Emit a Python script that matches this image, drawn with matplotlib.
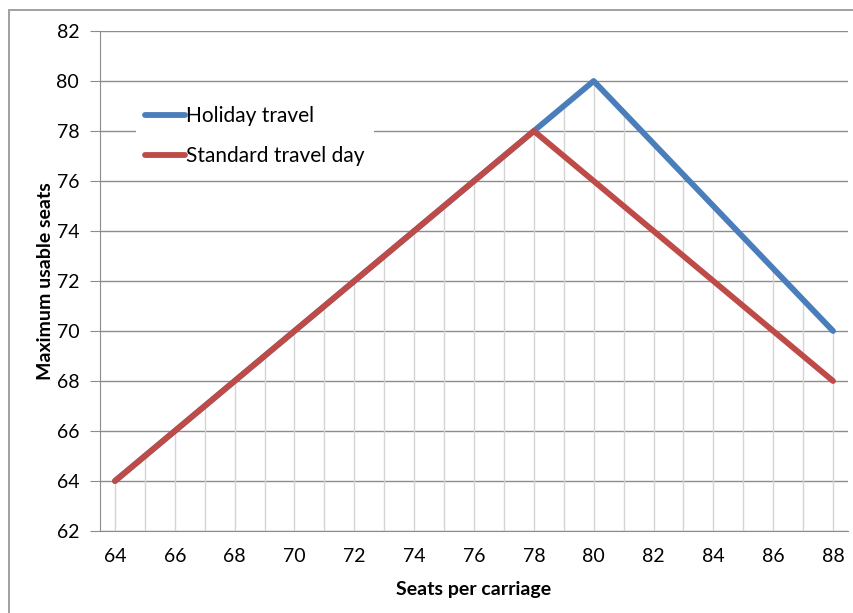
import matplotlib.pyplot as plt
from matplotlib.patches import Rectangle

# Data
seats = [64, 65, 66, 67, 68, 69, 70, 71, 72, 73, 74, 75, 76,
         77, 78, 79, 80, 81, 82, 83, 84, 85, 86, 87, 88]
holiday = [64, 65, 66, 67, 68, 69, 70, 71, 72, 73, 74, 75, 76,
           77, 78, 79, 80, 78.75, 77.5, 76.25, 75, 73.75, 72.5, 71.25, 70]
standard = [64, 65, 66, 67, 68, 69, 70, 71, 72, 73, 74, 75, 76,
            77, 78, 77, 76, 75, 74, 73, 72, 71, 70, 69, 68]
x_ticks = [64, 66, 68, 70, 72, 74, 76, 78, 80, 82, 84, 86, 88]
y_ticks = [62, 64, 66, 68, 70, 72, 74, 76, 78, 80, 82]

plt.rcParams['font.family'] = ['Lato', 'DejaVu Sans']

fig = plt.figure(figsize=(8.54, 6.13), dpi=100)
ax = fig.add_axes([100 / 854, 1 - 531 / 613, 748 / 854, 500 / 613])

# outer chart border (only left and top edges show)
fig.patches.append(Rectangle((9 / 854, -0.05), 1, 1.05 - 10 / 613, transform=fig.transFigure,
                             fill=False, edgecolor='#a0a0a0', linewidth=1.4))

ax.plot(seats, holiday, color='#4a7ebb', linewidth=4.2, solid_capstyle='round',
        solid_joinstyle='round', label='Holiday travel', zorder=3)
ax.plot(seats, standard, color='#be4b48', linewidth=4.2, solid_capstyle='round',
        solid_joinstyle='round', label='Standard travel day', zorder=4)

# drop lines from the highest point down to the axis
tops = [max(h, s) for h, s in zip(holiday, standard)]
ax.vlines(seats, 62, tops, color='#d4d4d4', linewidth=1.0, zorder=1)

ax.set_xlim(63.5, 88.5)
ax.set_ylim(62, 82)
ax.set_xticks(x_ticks)
ax.set_yticks(y_ticks)

ax.grid(axis='y', color='#8c8c8c', linewidth=1.0, zorder=2)
ax.set_axisbelow(True)

for s in ['top', 'right']:
    ax.spines[s].set_visible(False)
ax.spines['left'].set_color('#8c8c8c')
ax.spines['bottom'].set_color('#8c8c8c')

ax.tick_params(axis='y', length=7, color='#8c8c8c', labelsize=14, pad=8)
ax.tick_params(axis='x', which='both', length=0, labelsize=14, pad=12)

ax.set_xlabel('Seats per carriage', fontsize=14, fontweight='bold', labelpad=12)
ax.set_ylabel('Maximum usable seats', fontsize=14, fontweight='bold', labelpad=2)

leg = ax.legend(loc='upper left', bbox_to_anchor=(36 / 748, 1 - 66 / 500),
                frameon=True, fancybox=False, edgecolor='none', framealpha=1,
                fontsize=15, handlelength=1.9, handletextpad=0.05,
                labelspacing=0.95, borderpad=0.45, borderaxespad=0)
leg.set_zorder(5)

fig.savefig('out.png', dpi=100)
